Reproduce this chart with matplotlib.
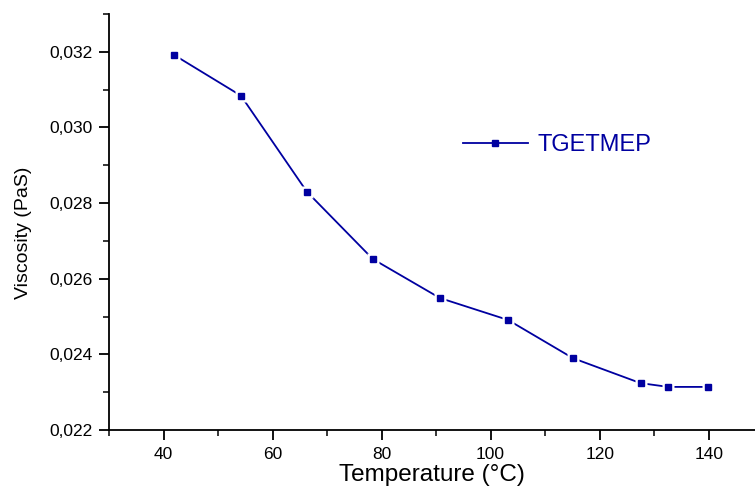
#!/usr/bin/env python3

import matplotlib
matplotlib.use("Agg")
import matplotlib.pyplot as plt
from matplotlib.ticker import FuncFormatter, MultipleLocator

# -----------------------
# Data
# -----------------------
temperature = [41.9, 54.2, 66.3, 78.4, 90.7, 103.2, 115.1, 127.5, 132.6, 139.9]
viscosity = [0.03192, 0.03084, 0.02830, 0.02652, 0.02549, 0.02491, 0.02390, 0.02324, 0.02314, 0.02314]
series_name = "TGETMEP"

BLUE = "#0000A0"

plt.rcParams["font.family"] = ["Liberation Sans", "DejaVu Sans"]

fig = plt.figure(figsize=(7.55, 4.91), dpi=100)
ax = fig.add_axes([0.1444, 0.1242, 0.8556, 0.8473])

# line, then white squares to open gaps, then the blue markers
ax.plot(temperature, viscosity, color=BLUE, lw=1.3, zorder=2)
ax.plot(temperature, viscosity, ls="none", marker="s", ms=9, mfc="white", mec="none", zorder=3)
ax.plot(temperature, viscosity, ls="none", marker="s", ms=4.6, mfc=BLUE, mec=BLUE, zorder=4)

# legend handle (continuous line with marker)
ax.plot([], [], color=BLUE, lw=1.3, marker="s", ms=4.6, label=series_name)
leg = ax.legend(loc="center left", bbox_to_anchor=(0.548, 0.685), frameon=False,
                fontsize=17, handlelength=2.75, handletextpad=0.42,
                borderpad=0, borderaxespad=0)
for t in leg.get_texts():
    t.set_color(BLUE)

ax.set_xlim(30, 148.5)
ax.set_ylim(0.022, 0.033)
ax.xaxis.set_major_locator(MultipleLocator(20))
ax.xaxis.set_minor_locator(MultipleLocator(10))
ax.yaxis.set_major_locator(MultipleLocator(0.002))
ax.yaxis.set_minor_locator(MultipleLocator(0.001))
ax.yaxis.set_major_formatter(FuncFormatter(lambda v, p: f"{v:.3f}".replace(".", ",")))

for s in ["top", "right"]:
    ax.spines[s].set_visible(False)
for s in ["left", "bottom"]:
    ax.spines[s].set_linewidth(1.3)

ax.tick_params(which="major", direction="out", length=7, width=1.3, labelsize=12.5, pad=5)
ax.tick_params(which="minor", direction="out", length=4, width=1.1)

ax.set_xlabel("Temperature (°C)", fontsize=17.5, labelpad=2)
ax.set_ylabel("Viscosity (PaS)", fontsize=14)
ax.yaxis.set_label_coords(-0.12, 0.474)

fig.savefig("out.png", dpi=100)
